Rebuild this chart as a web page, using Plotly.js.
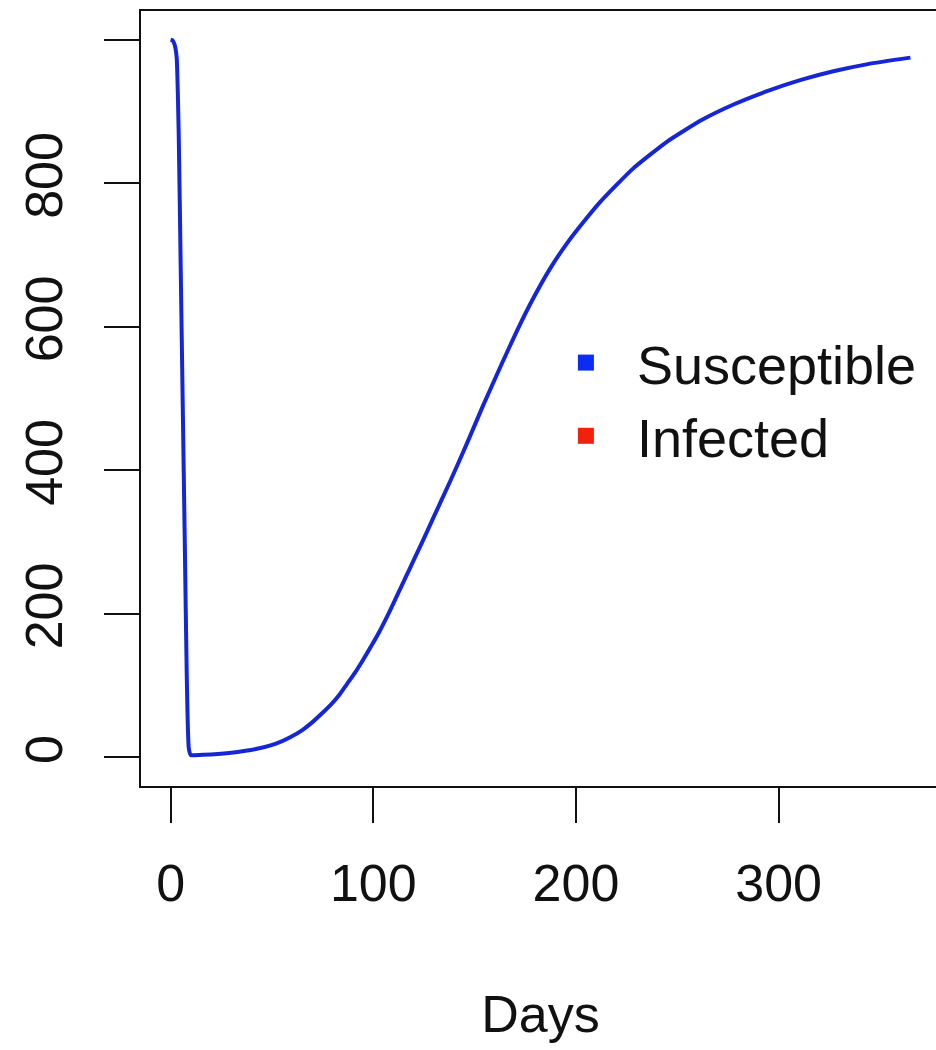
<!DOCTYPE html>
<html>
<head>
<meta charset="utf-8">
<script src="https://cdn.plot.ly/plotly-3.0.1.min.js"></script>
<style>
html,body{margin:0;padding:0;background:#fff;overflow:hidden;}
#wrap{width:936px;height:1050px;overflow:hidden;}
#chart{width:960px;height:1050px;}
</style>
</head>
<body>
<div id="wrap"><div id="chart"></div></div>
<script>
// Days since start
const days = [0,1,2,3,4,5,6,7,8,9,10,12,20,29,37,46,52,59,65,70,75,79,83,87,91,95,99,103,108,112,116,120,125,130,138,146,154,163,171,179,187,196,204,212,228,245,262,278,295,311,327,344,365];
// Susceptible population
const susceptible = [1000,999,993,975,870,680,490,300,110,12,3,3,4,6,9,14,19,28,38,49,62,73,86,102,118,136,155,175,203,227,251,275,305,336,385,436,489,546,595,640,680,718,747,774,820,858,888,910,929,944,956,966,975];
// Legend labels and tick labels
const seriesNames = ["Susceptible", "Infected"];
const yTickVals = [0,200,400,600,800,1000];
const yTickText = ["0","200","400","600","800",""];
const xTickVals = [0,100,200,300];

const FONT = "Liberation Sans, Arial, Helvetica, sans-serif";

const traces = [
  {x: days, y: susceptible, mode: "lines", line: {color: "#1526d6", width: 4, shape: "spline", smoothing: 0.5}, showlegend: false, hoverinfo: "skip"},
  {x: [null], y: [null], mode: "markers", name: seriesNames[0], marker: {symbol: "square", color: "#0a2cf5", size: 22}},
  {x: [null], y: [null], mode: "markers", name: seriesNames[1], marker: {symbol: "square", color: "#f2200c", size: 22}}
];

const layout = {
  width: 960, height: 1050,
  margin: {l: 141, r: 20, t: 11, b: 264, pad: 0},
  paper_bgcolor: "#ffffff", plot_bgcolor: "#ffffff",
  font: {family: FONT, size: 52, color: "#111111"},
  showlegend: true,
  legend: {x: 0.493, y: 0.600, xanchor: "left", yanchor: "top", bgcolor: "rgba(0,0,0,0)",
           font: {family: FONT, size: 54, color: "#111"}, itemsizing: "trace", itemwidth: 92, tracegroupgap: 0},
  xaxis: {
    range: [-14.6, 379.6], tickvals: xTickVals, ticks: "outside", ticklen: 35, tickwidth: 2, tickcolor: "#111",
    showline: true, linecolor: "#111", linewidth: 2, mirror: true, showgrid: false, zeroline: false,
    tickfont: {family: FONT, size: 52, color: "#111"}, ticklabelstandoff: 16,
    title: {text: "Days", font: {family: FONT, size: 52, color: "#111"}, standoff: 84}
  },
  yaxis: {
    range: [-40, 1040], tickvals: yTickVals, ticktext: yTickText, ticks: "outside", ticklen: 35, tickwidth: 2, tickcolor: "#111",
    showline: true, linecolor: "#111", linewidth: 2, mirror: true, showgrid: false, zeroline: false,
    tickangle: -90, tickfont: {family: FONT, size: 52, color: "#111"}, ticklabelstandoff: 21
  }
};

Plotly.newPlot("chart", traces, layout, {displayModeBar: false, staticPlot: true});
</script>
</body>
</html>
